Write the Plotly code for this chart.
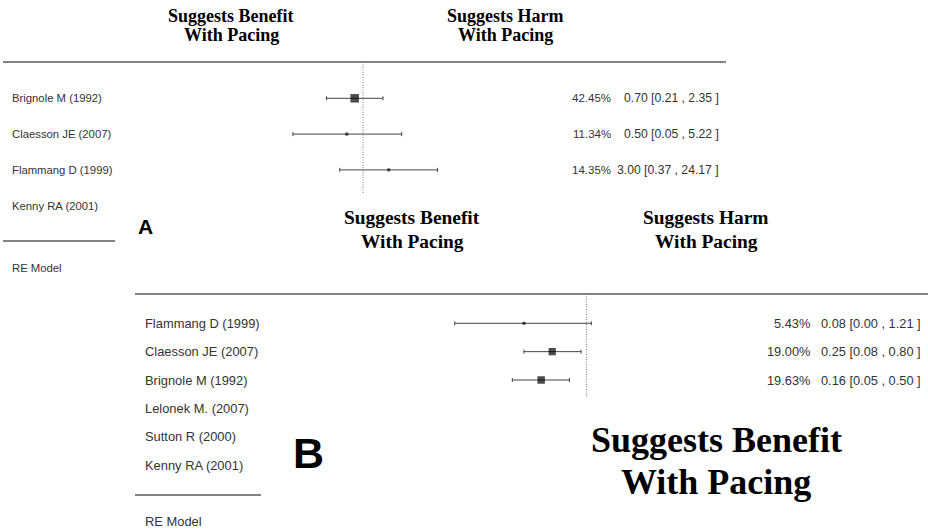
import plotly.graph_objects as go

W, H = 928, 529

# ---- Panel A: pacing vs. control (odds ratios) ----
a_studies = ["Brignole M (1992)", "Claesson JE (2007)", "Flammang D (1999)", "Kenny RA (2001)"]
a_weight = [42.45, 11.34, 14.35, None]
a_or = [0.70, 0.50, 3.00, None]
a_lo = [0.21, 0.05, 0.37, None]
a_hi = [2.35, 5.22, 24.17, None]

# ---- Panel B ----
b_studies = ["Flammang D (1999)", "Claesson JE (2007)", "Brignole M (1992)",
             "Lelonek M. (2007)", "Sutton R (2000)", "Kenny RA (2001)"]
b_weight = [5.43, 19.00, 19.63, None, None, None]
b_or = [0.08, 0.25, 0.16, None, None, None]
b_lo = [0.0049, 0.08, 0.05, None, None, None]
b_hi = [1.21, 0.80, 0.50, None, None, None]

SANS = "Liberation Sans, Arial, Helvetica, sans-serif"
SERIF = "Liberation Serif, Times New Roman, serif"
TXT = "#333333"
LINE = "#5a5a5a"


def px(x):
    return x / W


def py(y):
    return 1 - y / H


# panel geometry (pixels): x position of OR = 1, pixels per decade,
# y of first row, row spacing
A_NULL, A_DEC, A_ROW0, A_STEP = 363.0, 53.88, 98.3, 35.8
B_NULL, B_DEC, B_ROW0, B_STEP = 586.6, 57.1, 323.3, 28.35


def xrange_for(null_px, dec_px):
    return [-null_px / dec_px, (W - null_px) / dec_px]


def yrange_for(row0, step):
    return [(H - row0) / step, -row0 / step]


fig = go.Figure()


def add_panel(studies, weight, est, lo, hi, xa, ya, max_size):
    rows = [i for i, e in enumerate(est) if e is not None]
    wmax = max(weight[i] for i in rows)
    sizes = [max(3, max_size * weight[i] / wmax) for i in rows]
    fig.add_trace(go.Scatter(
        x=[est[i] for i in rows],
        y=rows,
        xaxis=xa, yaxis=ya,
        mode="markers",
        marker=dict(symbol="square", color="black", size=sizes, line=dict(width=0)),
        error_x=dict(type="data", symmetric=False,
                     array=[hi[i] - est[i] for i in rows],
                     arrayminus=[est[i] - lo[i] for i in rows],
                     color="#444444", thickness=1, width=2),
        showlegend=False, hoverinfo="skip",
    ))


add_panel(a_studies, a_weight, a_or, a_lo, a_hi, "x", "y", 8.5)
add_panel(b_studies, b_weight, b_or, b_lo, b_hi, "x2", "y2", 7.5)

ann = []
shapes = []

# study labels
for i, s in enumerate(a_studies):
    ann.append(dict(x=px(10), xref="paper", y=i, yref="y", text=s, showarrow=False,
                    xanchor="left", yanchor="middle", font=dict(family=SANS, size=11.3, color=TXT)))
for i, s in enumerate(b_studies):
    ann.append(dict(x=px(143), xref="paper", y=i, yref="y2", text=s, showarrow=False,
                    xanchor="left", yanchor="middle", font=dict(family=SANS, size=12.9, color=TXT)))

# weights and OR [95% CI] text
for i, e in enumerate(a_or):
    if e is None:
        continue
    ann.append(dict(x=px(613), xref="paper", y=i, yref="y", text=f"{a_weight[i]:.2f}%",
                    showarrow=False, xanchor="right", yanchor="middle",
                    font=dict(family=SANS, size=11.5, color=TXT)))
    ann.append(dict(x=px(721), xref="paper", y=i, yref="y",
                    text=f"{e:.2f} [{a_lo[i]:.2f} , {a_hi[i]:.2f} ]",
                    showarrow=False, xanchor="right", yanchor="middle",
                    font=dict(family=SANS, size=12.2, color=TXT)))
for i, e in enumerate(b_or):
    if e is None:
        continue
    ann.append(dict(x=px(812), xref="paper", y=i, yref="y2", text=f"{b_weight[i]:.2f}%",
                    showarrow=False, xanchor="right", yanchor="middle",
                    font=dict(family=SANS, size=12.8, color=TXT)))
    ann.append(dict(x=px(923), xref="paper", y=i, yref="y2",
                    text=f"{e:.2f} [{b_lo[i]:.2f} , {b_hi[i]:.2f} ]",
                    showarrow=False, xanchor="right", yanchor="middle",
                    font=dict(family=SANS, size=12.8, color=TXT)))

# RE model labels
ann.append(dict(x=px(10), xref="paper", y=py(268), yref="paper", text="RE Model", showarrow=False,
                xanchor="left", yanchor="middle", font=dict(family=SANS, size=11.3, color=TXT)))
ann.append(dict(x=px(143), xref="paper", y=py(521), yref="paper", text="RE Model", showarrow=False,
                xanchor="left", yanchor="middle", font=dict(family=SANS, size=12.9, color=TXT)))


def serif_lines(cx, ys, lines, size):
    for yy, t in zip(ys, lines):
        ann.append(dict(x=px(cx), xref="paper", y=py(yy), yref="paper", text=f"<b>{t}</b>",
                        showarrow=False, xanchor="center", yanchor="middle",
                        font=dict(family=SERIF, size=size, color="black")))


serif_lines(231, [16, 35], ["Suggests Benefit", "With Pacing"], 18)
serif_lines(505, [16, 35], ["Suggests Harm", "With Pacing"], 18)
serif_lines(412, [218, 242], ["Suggests Benefit", "With Pacing"], 19.4)
serif_lines(706, [218, 242], ["Suggests Harm", "With Pacing"], 19.4)
serif_lines(716, [440, 482], ["Suggests Benefit", "With Pacing"], 36)

# panel letters
ann.append(dict(x=px(145.5), xref="paper", y=py(226), yref="paper", text="<b>A</b>", showarrow=False,
                xanchor="center", yanchor="middle", font=dict(family=SANS, size=21, color="black")))
ann.append(dict(x=px(308), xref="paper", y=py(453), yref="paper", text="<b>B</b>", showarrow=False,
                xanchor="center", yanchor="middle", font=dict(family=SANS, size=43, color="black")))

# horizontal rules
for x0, x1, y in [(3, 726, 62), (3, 115, 241), (135, 928, 294), (135, 261, 495)]:
    shapes.append(dict(type="line", xref="paper", yref="paper", x0=px(x0), x1=px(x1),
                       y0=py(y), y1=py(y), line=dict(color=LINE, width=1.7)))

# reference lines at OR = 1
shapes.append(dict(type="line", xref="x", yref="paper", x0=1, x1=1, y0=py(62), y1=py(193),
                   line=dict(color="#777777", width=1, dash="1px,1.5px")))
shapes.append(dict(type="line", xref="x2", yref="paper", x0=1, x1=1, y0=py(294), y1=py(397),
                   line=dict(color="#777777", width=1, dash="1px,1.5px")))

fig.update_layout(
    width=W, height=H, autosize=False,
    margin=dict(l=0, r=0, t=0, b=0),
    paper_bgcolor="white", plot_bgcolor="white",
    xaxis=dict(type="log", range=xrange_for(A_NULL, A_DEC), domain=[0, 1], visible=False,
               anchor="y"),
    yaxis=dict(range=yrange_for(A_ROW0, A_STEP), domain=[0, 1], visible=False, anchor="x"),
    xaxis2=dict(type="log", range=xrange_for(B_NULL, B_DEC), domain=[0, 1], visible=False,
                anchor="y2", overlaying="x"),
    yaxis2=dict(range=yrange_for(B_ROW0, B_STEP), domain=[0, 1], visible=False,
                anchor="x2", overlaying="y"),
    annotations=ann,
    shapes=shapes,
)

fig.write_html("out.html")
